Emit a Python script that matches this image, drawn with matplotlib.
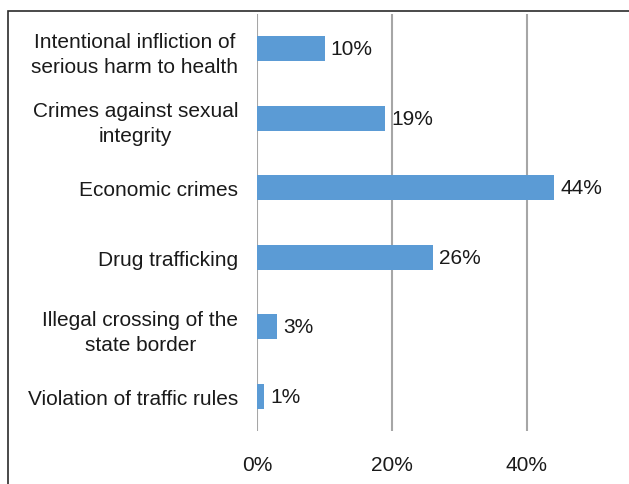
import matplotlib.pyplot as plt
from matplotlib.patches import Rectangle

categories = [
    "Intentional infliction of\nserious harm to health",
    "Crimes against sexual\nintegrity",
    "Economic crimes",
    "Drug trafficking",
    "Illegal crossing of the\nstate border",
    "Violation of traffic rules",
]
values = [10, 19, 44, 26, 3, 1]
ticks = [0, 20, 40]
tick_labels = ["0%", "20%", "40%"]

plt.rcParams['font.family'] = ['Liberation Sans', 'DejaVu Sans']

W, H = 629, 485
fig = plt.figure(figsize=(W / 100, H / 100), dpi=100)

# outer chart frame, only the top and left edges fall inside the image
fig.patches.append(Rectangle((8 / W, -0.1), 1.2, (H - 12) / H + 0.1,
                             transform=fig.transFigure, fill=False,
                             edgecolor='#2b2b2b', linewidth=1.2))

x0, y_top, y_bot = 257, 15, 432
ax = fig.add_axes([x0 / W, 1 - y_bot / H, 1 - x0 / W, (y_bot - y_top) / H])
ax.set_xlim(0, (W - x0) / 6.75)
ax.set_ylim(len(values) - 0.5, -0.5)

for t in ticks:
    ax.axvline(t, color='#a6a6a6', linewidth=1.5, zorder=0)

pos = range(len(values))
ax.barh(pos, values, height=0.36, color='#5b9bd5', zorder=2)
for p, v in zip(pos, values):
    ax.annotate(f"{v}%", (v, p), xytext=(4.5, 0), textcoords='offset points',
                va='center', ha='left', fontsize=15, color='#1a1a1a')

ax.set_yticks(list(pos))
ax.set_yticklabels(categories, fontsize=15, color='#1a1a1a', linespacing=1.4)
for lab in ax.get_yticklabels():
    lab.set_multialignment('center')
ax.set_xticks(ticks)
ax.set_xticklabels(tick_labels, fontsize=15, color='#1a1a1a')
ax.tick_params(axis='both', length=0)
ax.tick_params(axis='y', pad=13.5)
ax.tick_params(axis='x', pad=17.5)
for s in ax.spines.values():
    s.set_visible(False)

fig.savefig("out.png", dpi=100)
